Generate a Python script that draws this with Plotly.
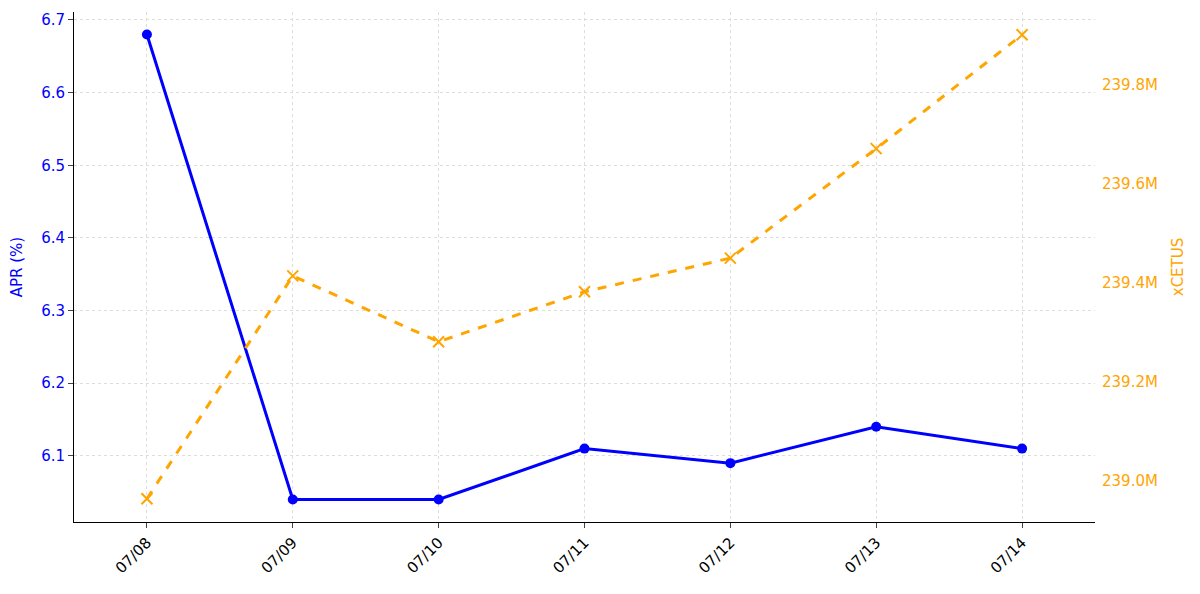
import plotly.graph_objects as go

dates = ["07/08","07/09","07/10","07/11","07/12","07/13","07/14"]
apr = [6.68, 6.04, 6.04, 6.11, 6.09, 6.14, 6.11]
xcetus = [238.964e6, 239.414e6, 239.281e6, 239.382e6, 239.45e6, 239.671e6, 239.901e6]
right_ticks = [239.0e6, 239.2e6, 239.4e6, 239.6e6, 239.8e6]
right_labels = ["239.0M", "239.2M", "239.4M", "239.6M", "239.8M"]

xi = list(range(len(dates)))
fig = go.Figure()
fig.add_trace(go.Scatter(x=xi, y=apr, mode="lines+markers", line=dict(color="#0000ff", width=3),
                         marker=dict(size=10, color="#0000ff"), yaxis="y"))
fig.add_trace(go.Scatter(x=xi, y=xcetus, mode="lines+markers", line=dict(color="#ffa500", width=3, dash="dash"),
                         marker=dict(symbol="x-thin", size=11, line=dict(color="#ffa500", width=2), color="#ffa500"), yaxis="y2"))
fig.update_layout(
    width=1200, height=594, showlegend=False, plot_bgcolor="white", paper_bgcolor="white",
    margin=dict(l=66, r=113, t=4, b=80),
    font=dict(family="DejaVu Sans", size=15),
    xaxis=dict(tickvals=xi, ticktext=dates, range=[-0.5, 6.5], tickangle=-45, showline=True, linecolor="black",
               ticks="outside", showgrid=True, gridcolor="#dddddd", griddash="dot", tickfont=dict(color="black", size=15), zeroline=False),
    yaxis=dict(title=dict(text="APR (%)", font=dict(color="#0000ff", size=15)), range=[6.009, 6.711], dtick=0.1, tickformat=".1f",
               showline=True, linecolor="black", ticks="outside", tickfont=dict(color="#0000ff", size=15),
               showgrid=True, gridcolor="#dddddd", griddash="dot", zeroline=False),
    yaxis2=dict(title=dict(text="xCETUS", font=dict(color="#ffa500", size=15)), overlaying="y", side="right",
                range=[238.917e6, 239.947e6], tickvals=right_ticks, ticktext=right_labels, ticklabelstandoff=6,
                tickfont=dict(color="#ffa500", size=15), showgrid=False, showline=False, ticks="", zeroline=False),
)
fig.write_html("out.html")
